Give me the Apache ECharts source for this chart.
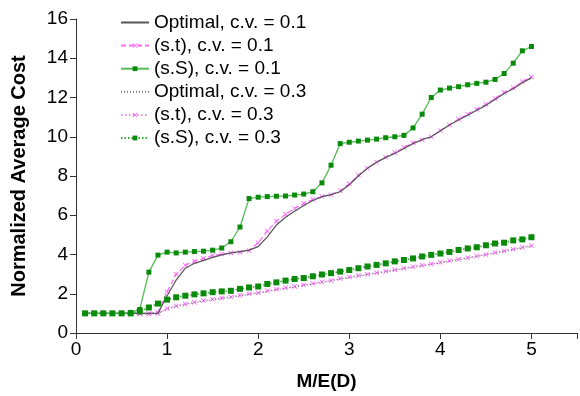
<!DOCTYPE html>
<html lang="en">
<head>
<meta charset="UTF-8">
<title>Normalized Average Cost</title>
<script src="https://cdn.jsdelivr.net/npm/echarts@6/dist/echarts.min.js"></script>
<style>
  html, body { margin: 0; padding: 0; background: #fff; }
  #chart { width: 580px; height: 396px; }
</style>
</head>
<body>
<div id="chart"></div>
<script type="text/javascript">
// M/E(D) values
var ratio = [0.1,0.2,0.3,0.4,0.5,0.6,0.7,0.8,0.9,1.0,
             1.1,1.2,1.3,1.4,1.5,1.6,1.7,1.8,1.9,2.0,
             2.1,2.2,2.3,2.4,2.5,2.6,2.7,2.8,2.9,3.0,
             3.1,3.2,3.3,3.4,3.5,3.6,3.7,3.8,3.9,4.0,
             4.1,4.2,4.3,4.4,4.5,4.6,4.7,4.8,4.9,5.0];

var optimal01 = [1.0,1.0,1.0,1.0,1.0,1.0,1.0,1.0,1.0,1.9,
                 2.7,3.3,3.55,3.7,3.85,3.98,4.08,4.15,4.22,4.4,
                 4.9,5.5,5.9,6.2,6.5,6.75,6.95,7.05,7.2,7.55,
                 8.0,8.4,8.7,8.95,9.15,9.4,9.65,9.85,10.0,10.3,
                 10.6,10.85,11.1,11.35,11.6,11.9,12.2,12.45,12.75,13.0];
var st01 = [1.0,1.0,1.0,1.0,1.0,1.0,1.0,1.0,1.05,2.1,
            3.0,3.45,3.65,3.8,3.95,4.02,4.08,4.12,4.2,4.6,
            5.2,5.7,6.05,6.35,6.6,6.8,6.95,7.05,7.25,7.6,
            8.05,8.4,8.7,8.95,9.2,9.45,9.7,9.85,10.0,10.3,
            10.6,10.9,11.15,11.4,11.65,11.95,12.25,12.5,12.8,13.05];
var sS01 = [1.0,1.0,1.0,1.0,1.0,1.05,1.2,3.1,3.97,4.12,
            4.08,4.12,4.15,4.17,4.22,4.33,4.65,5.4,6.85,6.92,
            6.95,6.97,6.98,7.03,7.08,7.2,7.65,8.55,9.65,9.72,
            9.78,9.83,9.88,9.95,10.0,10.07,10.45,11.15,12.0,12.38,
            12.48,12.55,12.65,12.72,12.78,12.92,13.22,13.75,14.38,14.6];
var optimal03 = [1.0,1.0,1.0,1.0,1.0,1.0,0.97,0.97,1.0,1.22,
                 1.35,1.45,1.54,1.62,1.7,1.76,1.82,1.9,1.97,2.03,
                 2.12,2.2,2.27,2.35,2.42,2.5,2.58,2.66,2.75,2.82,
                 2.9,2.97,3.05,3.12,3.2,3.28,3.35,3.42,3.5,3.58,
                 3.66,3.74,3.82,3.9,3.98,4.07,4.16,4.25,4.34,4.43];
var st03 = [1.0,1.0,1.0,1.0,1.0,1.0,0.97,0.97,1.0,1.25,
            1.38,1.48,1.57,1.65,1.72,1.78,1.84,1.92,2.0,2.05,
            2.15,2.23,2.3,2.37,2.45,2.52,2.6,2.68,2.78,2.85,
            2.93,3.0,3.07,3.15,3.22,3.3,3.38,3.45,3.52,3.6,
            3.68,3.76,3.84,3.92,4.0,4.1,4.18,4.27,4.36,4.45];
var sS03 = [1.0,1.0,1.0,1.0,1.0,1.0,1.1,1.3,1.5,1.7,
            1.82,1.9,1.97,2.02,2.08,2.12,2.15,2.25,2.32,2.37,
            2.5,2.58,2.67,2.75,2.8,2.89,2.98,3.05,3.13,3.21,
            3.3,3.39,3.47,3.55,3.65,3.72,3.8,3.9,3.98,4.05,
            4.13,4.23,4.31,4.37,4.47,4.56,4.6,4.72,4.77,4.88];

var xTicks = [0, 1, 2, 3, 4, 5];
var yTicks = [0, 2, 4, 6, 8, 10, 12, 14, 16];

function pairs(ys) {
  return ratio.map(function (x, i) { return [x, ys[i]]; });
}

var crossIcon = 'path://M0,1L1,0L5,4L9,0L10,1L6,5L10,9L9,10L5,6L1,10L0,9L4,5Z';
var font = '"Liberation Sans", Arial, Helvetica, sans-serif';

var myChart = echarts.init(document.getElementById('chart'), null, { renderer: 'canvas' });
myChart.setOption({
  animation: false,
  textStyle: { fontFamily: font },
  grid: { left: 76, right: 0, top: 19, bottom: 62, containLabel: false },
  legend: {
    orient: 'vertical',
    left: 115,
    top: 8,
    itemWidth: 28,
    itemHeight: 6,
    itemGap: 4.1,
    textStyle: { fontSize: 19, color: '#000', fontFamily: font },
    data: [
      { name: 'Optimal, c.v. = 0.1', itemStyle: { opacity: 0 } },
      { name: '(s.t), c.v. = 0.1' },
      { name: '(s.S), c.v. = 0.1' },
      { name: 'Optimal, c.v. = 0.3', itemStyle: { opacity: 0 } },
      { name: '(s.t), c.v. = 0.3' },
      { name: '(s.S), c.v. = 0.3' }
    ]
  },
  xAxis: {
    type: 'value',
    min: 0,
    max: 5.5,
    interval: 1,
    name: 'M/E(D)',
    nameLocation: 'middle',
    nameGap: 39,
    nameTextStyle: { fontSize: 19, fontWeight: 'bold', color: '#000' },
    axisLine: { lineStyle: { color: '#333', width: 1 } },
    axisTick: { inside: false, length: 6, lineStyle: { color: '#333' } },
    axisLabel: {
      fontSize: 19, color: '#000', margin: 7,
      formatter: function (v) { return xTicks.indexOf(v) >= 0 ? String(v) : ''; }
    },
    splitLine: { show: false }
  },
  yAxis: {
    type: 'value',
    min: 0,
    max: 16,
    interval: 2,
    name: 'Normalized Average Cost',
    nameLocation: 'middle',
    nameGap: 47,
    nameTextStyle: { fontSize: 20, fontWeight: 'bold', color: '#000' },
    axisLine: { show: true, lineStyle: { color: '#333', width: 1 } },
    axisTick: { show: true, inside: false, length: 6, lineStyle: { color: '#333' } },
    axisLabel: {
      fontSize: 19, color: '#000', margin: 8,
      formatter: function (v) { return yTicks.indexOf(v) >= 0 ? String(v) : ''; }
    },
    splitLine: { show: false }
  },
  series: [
    {
      name: 'Optimal, c.v. = 0.1',
      type: 'line',
      data: pairs(optimal01),
      showSymbol: false,
      lineStyle: { color: '#555', width: 1.2 },
      itemStyle: { color: '#555' },
      z: 3
    },
    {
      name: '(s.t), c.v. = 0.1',
      type: 'line',
      data: pairs(st01),
      symbol: crossIcon,
      symbolSize: 5,
      showAllSymbol: true,
      lineStyle: { color: '#ff66ff', width: 1.2, type: [5, 3] },
      itemStyle: { color: '#ff55ff' },
      z: 2
    },
    {
      name: '(s.S), c.v. = 0.1',
      type: 'line',
      data: pairs(sS01),
      symbol: 'rect',
      symbolSize: 5,
      showAllSymbol: true,
      lineStyle: { color: '#55bb55', width: 1.3 },
      itemStyle: { color: '#0a8a0a' },
      z: 4
    },
    {
      name: 'Optimal, c.v. = 0.3',
      type: 'line',
      data: pairs(optimal03),
      showSymbol: false,
      lineStyle: { color: '#777', width: 1.2, type: [1, 2] },
      itemStyle: { color: '#777' },
      z: 3
    },
    {
      name: '(s.t), c.v. = 0.3',
      type: 'line',
      data: pairs(st03),
      symbol: crossIcon,
      symbolSize: 5,
      showAllSymbol: true,
      lineStyle: { color: '#ff77ff', width: 1.3, type: [1.5, 2.5] },
      itemStyle: { color: '#ff55ff' },
      z: 2
    },
    {
      name: '(s.S), c.v. = 0.3',
      type: 'line',
      data: pairs(sS03),
      symbol: 'rect',
      symbolSize: 6,
      showAllSymbol: true,
      lineStyle: { color: '#33aa33', width: 1.6, type: [1.5, 2] },
      itemStyle: { color: '#0a8a0a' },
      z: 4
    }
  ]
});
</script>
</body>
</html>
